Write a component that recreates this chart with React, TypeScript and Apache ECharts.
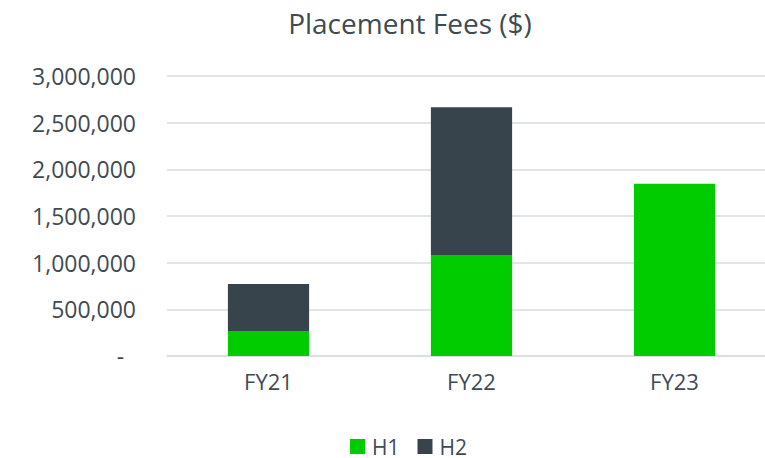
import React, { useEffect, useRef } from "react";
import * as echarts from "echarts";

const categories = ["FY21", "FY22", "FY23"];
const h1Values = [268000, 1082000, 1846000];
const h2Values = [503000, 1582000, null];
const yTicks = [0, 500000, 1000000, 1500000, 2000000, 2500000, 3000000];

const FONT = "'Open Sans', sans-serif";
const TEXT = "#3F4B53";

export default function App() {
  const ref = useRef<HTMLDivElement>(null);
  useEffect(() => {
    const chart = echarts.init(ref.current!, null, { renderer: "svg" });
    chart.setOption({
      animation: false,
      backgroundColor: "#ffffff",
      title: {
        text: "Placement Fees ($)",
        left: 405,
        top: 4,
        textAlign: "center",
        textStyle: { fontFamily: FONT, fontSize: 28, fontWeight: "normal", color: TEXT },
      },
      legend: {
        data: ["H1", "H2"],
        left: 350,
        top: 436,
        padding: 0,
        itemWidth: 15,
        itemHeight: 15,
        itemGap: 18,
        icon: "rect",
        textStyle: { fontFamily: FONT, fontSize: 21, lineHeight: 17, color: TEXT, padding: [0, 0, 0, 2] },
      },
      grid: { left: 167, top: 76, width: 609, height: 280, containLabel: false },
      xAxis: {
        type: "category",
        data: categories,
        axisLine: { show: true, lineStyle: { color: "#D9DCDF", width: 1.5 } },
        axisTick: { show: false },
        axisLabel: { fontFamily: FONT, fontSize: 22, color: TEXT, margin: 14 },
      },
      yAxis: {
        type: "value",
        min: yTicks[0],
        max: yTicks[yTicks.length - 1],
        interval: 500000,
        axisLine: { show: false },
        axisTick: { show: false },
        splitLine: { lineStyle: { color: "#D9DCDF", width: 1.5 } },
        axisLabel: {
          fontFamily: FONT,
          fontSize: 23,
          color: TEXT,
          margin: 31,
          formatter: (v: number) => (v === 0 ? "-  " : v.toLocaleString("en-US")),
        },
      },
      series: [
        {
          name: "H1",
          type: "bar",
          stack: "total",
          barWidth: "40%",
          data: h1Values,
          itemStyle: { color: "#00CC00" },
        },
        {
          name: "H2",
          type: "bar",
          stack: "total",
          barWidth: "40%",
          data: h2Values,
          itemStyle: { color: "#37444C" },
        },
      ],
    });
    return () => chart.dispose();
  }, []);
  return (
    <div
      style={{ position: "fixed", left: 0, top: 0, width: 765, height: 458, overflow: "hidden", background: "#fff" }}
    >
      <div ref={ref} style={{ width: 800, height: 458 }} />
    </div>
  );
}
